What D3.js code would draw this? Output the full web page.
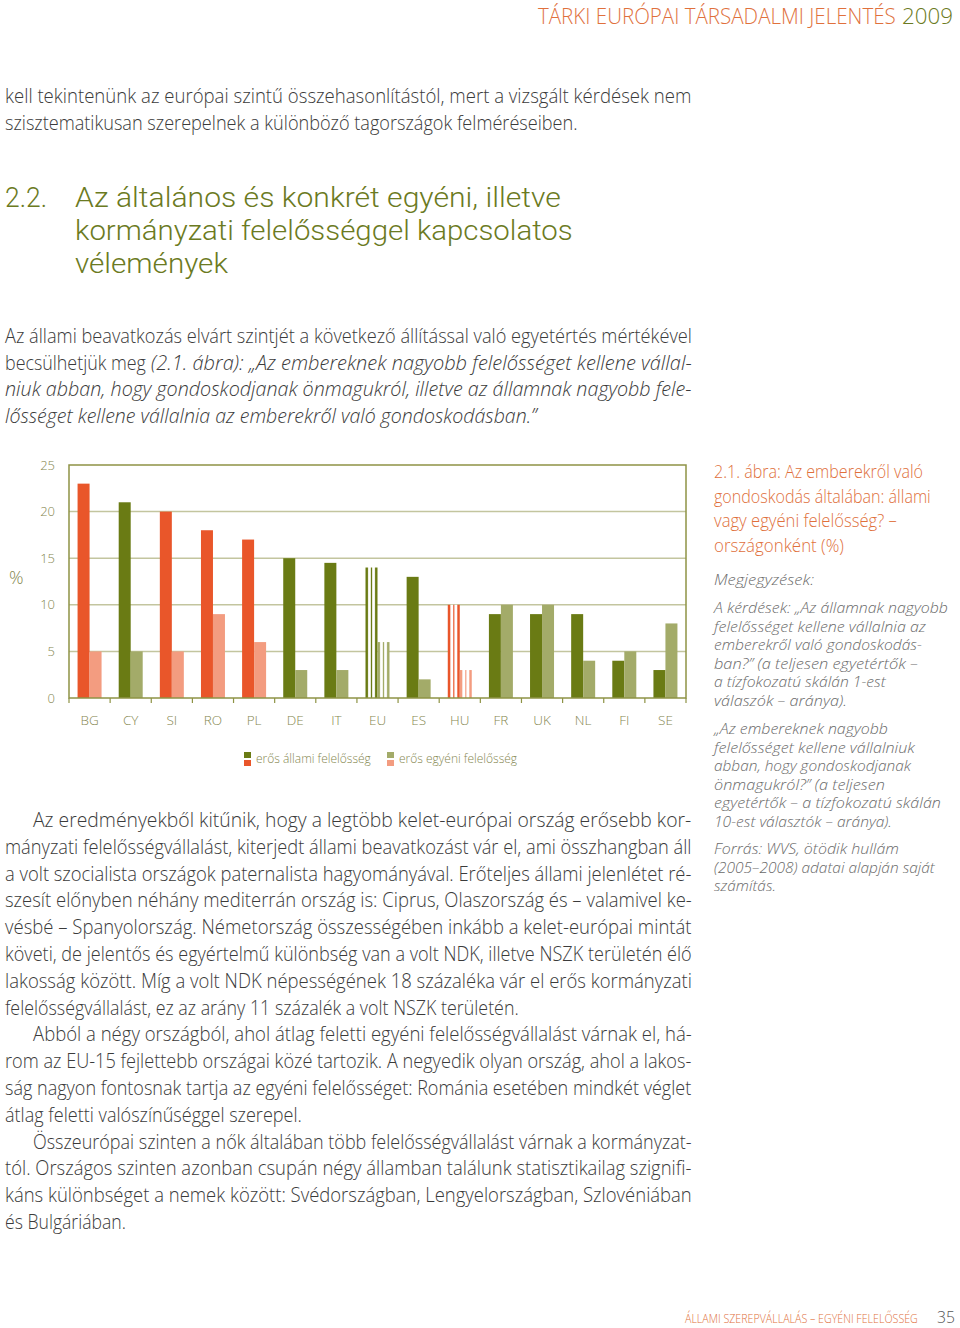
<!DOCTYPE html>
<html>
<head>
<meta charset="utf-8">
<script src="https://cdn.jsdelivr.net/npm/d3@7"></script>
<style>
body{margin:0;background:#fff}
svg{display:block}
</style>
</head>
<body>
<svg id="page" width="960" height="1328"></svg>
<script>
// chart data
let countries = ['BG','CY','SI','RO','PL','DE','IT','EU','ES','HU','FR','UK','NL','FI','SE']
let stateValues = [23,21,20,18,17,15,14.5,14,13,10,9,9,9,4,3]
let individualValues = [5,5,5,9,6,3,3,6,2,3,10,10,4,5,8]
let colourGroup = ['red','green','red','red','red','green','green','euStripe','green','huStripe','green','green','green','green','green']
let yTicks = [0,5,10,15,20,25]
let legendLabels = ['erős állami felelősség','erős egyéni felelősség']

// page text: [line, start x, end x]
let para1 = [
  ['kell tekintenünk az európai szintű összehasonlítástól, mert a vizsgált kérdések nem',5,692],
  ['szisztematikusan szerepelnek a különböző tagországok felméréseiben.',5,578]
]
let heading = [
  ['Az általános és konkrét egyéni, illetve',75,561],
  ['kormányzati felelősséggel kapcsolatos',75,573],
  ['vélemények',75,228]
]
let para2 = [
  [['Az állami beavatkozás elvárt szintjét a következő állítással való egyetértés mértékével',5,692,false]],
  [['becsülhetjük meg',5,146,false],['(2.1. ábra): „Az embereknek nagyobb felelősséget kellene vállal-',151,692,true]],
  [['niuk abban, hogy gondoskodjanak önmagukról, illetve az államnak nagyobb fele-',5,692,true]],
  [['lősséget kellene vállalnia az emberekről való gondoskodásban.”',5,537,true]]
]
let para3 = [
  ['Az eredményekből kitűnik, hogy a legtöbb kelet-európai ország erősebb kor-',33,692],
  ['mányzati felelősségvállalást, kiterjedt állami beavatkozást vár el, ami összhangban áll',5,692],
  ['a volt szocialista országok paternalista hagyományával. Erőteljes állami jelenlétet ré-',5,692],
  ['szesít előnyben néhány mediterrán ország is: Ciprus, Olaszország és – valamivel ke-',5,692],
  ['vésbé – Spanyolország. Németország összességében inkább a kelet-európai mintát',5,692],
  ['követi, de jelentős és egyértelmű különbség van a volt NDK, illetve NSZK területén élő',5,692],
  ['lakosság között. Míg a volt NDK népességének 18 százaléka vár el erős kormányzati',5,692],
  ['felelősségvállalást, ez az arány 11 százalék a volt NSZK területén.',5,519],
  ['Abból a négy országból, ahol átlag feletti egyéni felelősségvállalást várnak el, há-',33,692],
  ['rom az EU-15 fejlettebb országai közé tartozik. A negyedik olyan ország, ahol a lakos-',5,692],
  ['ság nagyon fontosnak tartja az egyéni felelősséget: Románia esetében mindkét véglet',5,692],
  ['átlag feletti valószínűséggel szerepel.',5,302],
  ['Összeurópai szinten a nők általában több felelősségvállalást várnak a kormányzat-',33,692],
  ['tól. Országos szinten azonban csupán négy államban találunk statisztikailag szignifi-',5,692],
  ['káns különbséget a nemek között: Svédországban, Lengyelországban, Szlovéniában',5,692],
  ['és Bulgáriában.',5,126]
]
let captionTitle = [
  ['2.1. ábra: Az emberekről való',923],
  ['gondoskodás általában: állami',931],
  ['vagy egyéni felelősség? –',897],
  ['országonként (%)',844]
]
let notes1 = [
  ['A kérdések: „Az államnak nagyobb',948],
  ['felelősséget kellene vállalnia az',926],
  ['emberekről való gondoskodás-',922],
  ['ban?” (a teljesen egyetértők –',918],
  ['a tízfokozatú skálán 1-est',886],
  ['válaszók – aránya).',847]
]
let notes2 = [
  ['„Az embereknek nagyobb',888],
  ['felelősséget kellene vállalniuk',915],
  ['abban, hogy gondoskodjanak',911],
  ['önmagukról?” (a teljesen',885],
  ['egyetértők – a tízfokozatú skálán',941],
  ['10-est választók – aránya).',892]
]
let notes3 = [
  ['Forrás: WVS, ötödik hullám',899],
  ['(2005–2008) adatai alapján saját',935],
  ['számítás.',776]
]

let svg = d3.select('#page')
let FONT = "'Open Sans', 'Noto Sans', sans-serif"
let HEAD_FONT = "Roboto, 'Open Sans', sans-serif"
let bodyCol = '#3b3b3b'
let orange = '#e0703c'
let olive = '#6b7a22'
let noteCol = '#6a6a6a'

// draws one line and squeezes it horizontally so it spans x0..x1, like the typeset page
let line = (g, txt, x0, x1, y, size, col, italic, weight, family) => {
  let t = g.append('text')
    .attr('x', 0).attr('y', 0)
    .attr('font-family', family || FONT)
    .attr('font-size', size)
    .attr('font-weight', weight || 300)
    .attr('font-style', italic ? 'italic' : 'normal')
    .attr('fill', col)
    .text(txt)
  let w = t.node().getComputedTextLength()
  let k = w > 0 ? (x1 - x0) / w : 1
  t.attr('transform', 'translate(' + x0 + ',' + y + ') scale(' + k + ',1)')
}

let text = svg.append('g')

// header
line(text, 'TÁRKI EURÓPAI TÁRSADALMI JELENTÉS', 538, 896, 24, 22, orange)
line(text, '2009', 902, 953, 24, 22, olive)

para1.forEach((d,i) => line(text, d[0], d[1], d[2], 103 + i*27, 19.5, bodyCol))

line(text, '2.2.', 5, 47, 207, 28, olive, false, 300, HEAD_FONT)
heading.forEach((d,i) => line(text, d[0], d[1], d[2], 207 + i*33, 28, olive, false, 300, HEAD_FONT))

para2.forEach((parts,i) => {
  parts.forEach(p => line(text, p[0], p[1], p[2], 343 + i*26.7, 19.5, bodyCol, p[3]))
})

para3.forEach((d,i) => line(text, d[0], d[1], d[2], 827 + i*26.8, 19.5, bodyCol))

captionTitle.forEach((d,i) => line(text, d[0], 714, d[1], 478 + i*24.6, 17.5, orange))
line(text, 'Megjegyzések:', 714, 814, 585, 15, noteCol, true)
notes1.forEach((d,i) => line(text, d[0], 714, d[1], 613 + i*18.6, 14, noteCol, true))
notes2.forEach((d,i) => line(text, d[0], 714, d[1], 734 + i*18.5, 14, noteCol, true))
notes3.forEach((d,i) => line(text, d[0], 714, d[1], 854 + i*18.5, 14, noteCol, true))

// footer
line(text, 'ÁLLAMI SZEREPVÁLLALÁS – EGYÉNI FELELŐSSÉG', 685, 918, 1323, 12, orange)
line(text, '35', 937, 955, 1323, 17, '#555')

// ---------- chart ----------
let colours = {
  red: {state:'#e9562a', individual:'#f39c80'},
  green: {state:'#6a7b14', individual:'#a3ab69'}
}
let frameCol = '#8e9345'
let gridCol = '#c3c59f'
let labelCol = '#85874f'

let defs = svg.append('defs')
let stripe = (id, c) => {
  let gr = defs.append('linearGradient').attr('id', id)
    .attr('x1','0%').attr('x2','100%').attr('y1','0%').attr('y2','0%')
  ;[[0,c],[16,c],[26,'#fff'],[40,'#fff'],[50,c],[60,'#fff'],[74,'#fff'],[84,c],[100,c]]
    .forEach(s => gr.append('stop').attr('offset', s[0]+'%').attr('stop-color', s[1]))
}
stripe('euState', colours.green.state)
stripe('euInd', colours.green.individual)
stripe('huState', colours.red.state)
stripe('huInd', colours.red.individual)

let fillFor = (group, series) => {
  if (group === 'euStripe') return series === 'state' ? 'url(#euState)' : 'url(#euInd)'
  if (group === 'huStripe') return series === 'state' ? 'url(#huState)' : 'url(#huInd)'
  return colours[group][series]
}

let x = d3.scaleBand().domain(countries).range([69, 686])
let xs = d3.scaleBand().domain(['state','individual']).range([0, x.bandwidth()]).paddingOuter(0.714)
let y = d3.scaleLinear().domain([0, 25]).range([698, 465])

let chart = svg.append('g')

// grid
chart.selectAll('line.grid')
  .data(yTicks.filter(t => t > 0 && t < 25))
  .enter().append('line')
  .attr('class','grid')
  .attr('x1', 69).attr('x2', 686)
  .attr('y1', d => y(d)).attr('y2', d => y(d))
  .attr('stroke', gridCol).attr('stroke-width', 1.5)

// bars
let rows = countries.map((c,i) => ({country:c, group:colourGroup[i], state:stateValues[i], individual:individualValues[i]}))
let groups = chart.selectAll('g.country')
  .data(rows).enter().append('g')
  .attr('transform', d => 'translate(' + x(d.country) + ',0)')

groups.selectAll('rect')
  .data(d => ['state','individual'].map(s => ({series:s, value:d[s], group:d.group})))
  .enter().append('rect')
  .attr('x', d => xs(d.series))
  .attr('width', xs.bandwidth())
  .attr('y', d => y(d.value))
  .attr('height', d => y(0) - y(d.value))
  .attr('fill', d => fillFor(d.group, d.series))

// frame
chart.append('rect')
  .attr('x', 69).attr('y', y(25))
  .attr('width', 686 - 69).attr('height', y(0) - y(25))
  .attr('fill', 'none').attr('stroke', frameCol).attr('stroke-width', 1.5)

// x ticks at band edges
chart.selectAll('line.xtick')
  .data(countries.map(c => x(c)).concat([686]))
  .enter().append('line')
  .attr('class','xtick')
  .attr('x1', d => d).attr('x2', d => d)
  .attr('y1', y(0)).attr('y2', y(0) + 5)
  .attr('stroke', frameCol).attr('stroke-width', 1.2)

// axis labels
let xAxis = chart.append('g')
  .attr('transform', 'translate(0,' + y(0) + ')')
  .call(d3.axisBottom(x).tickSize(0).tickPadding(17))
xAxis.select('.domain').remove()
xAxis.selectAll('text')
  .attr('font-family', FONT).attr('font-weight', 300)
  .attr('font-size', 13.5).attr('fill', labelCol)

let yAxis = chart.append('g')
  .attr('transform', 'translate(69,0)')
  .call(d3.axisLeft(y).tickValues(yTicks).tickSize(0).tickPadding(14))
yAxis.select('.domain').remove()
yAxis.selectAll('text')
  .attr('font-family', FONT).attr('font-weight', 300)
  .attr('font-size', 13).attr('fill', labelCol)

chart.append('text')
  .attr('x', 9).attr('y', 584)
  .attr('font-family', FONT).attr('font-weight', 300)
  .attr('font-size', 18).attr('fill', labelCol)
  .text('%')

// legend
let legend = chart.selectAll('g.legend')
  .data(legendLabels).enter().append('g')
  .attr('transform', (d,i) => 'translate(' + [244, 387][i] + ',752)')
legend.append('rect').attr('width', 7).attr('height', 6)
  .attr('fill', (d,i) => i === 0 ? colours.green.state : colours.green.individual)
legend.append('rect').attr('y', 8).attr('width', 7).attr('height', 6)
  .attr('fill', (d,i) => i === 0 ? colours.red.state : colours.red.individual)
legend.append('text')
  .attr('x', 12).attr('y', 11)
  .attr('font-family', FONT).attr('font-weight', 300)
  .attr('font-size', 12).attr('fill', labelCol)
  .text(d => d)
</script>
</body>
</html>
